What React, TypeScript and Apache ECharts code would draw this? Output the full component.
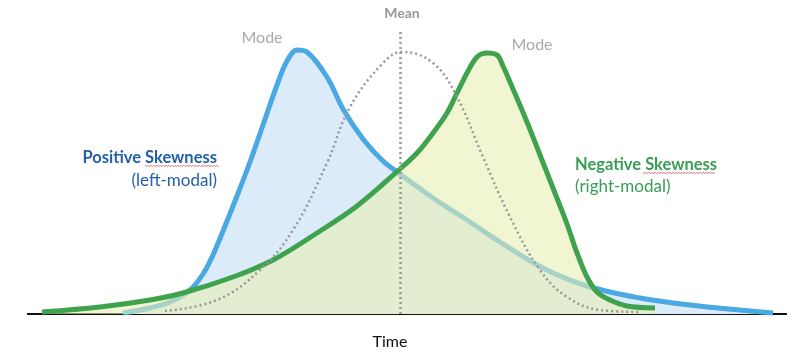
import React, { useEffect, useRef } from "react";
import * as echarts from "echarts";

// Time positions and densities (arbitrary units)
const blueX = [123, 150, 170, 190, 203, 213, 223, 237, 250, 263, 277, 287, 297, 307, 327, 343, 363, 383, 400, 433, 467, 500, 543, 587, 640, 690, 740, 773];
const blueY = [1, 6, 12, 24, 40, 59, 83, 118, 152, 189, 229, 253, 264, 262, 237, 205, 175, 153, 140, 116, 94, 72, 46, 28, 16, 9, 4, 1];

const greenX = [42, 100, 150, 183, 233, 273, 317, 357, 400, 417, 433, 447, 457, 467, 477, 487, 497, 503, 513, 527, 540, 553, 567, 577, 587, 597, 610, 627, 655];
const greenY = [2, 7, 14, 21, 37, 54, 81, 108, 145, 161, 181, 201, 221, 241, 257, 261, 259, 248, 225, 192, 159, 126, 90, 61, 37, 22, 14, 8, 6];

const normalX = [165, 217, 260, 293, 327, 350, 383, 402, 433, 457, 483, 510, 540, 567, 600, 640];
const normalY = [3, 14, 44, 84, 151, 207, 251, 262, 251, 217, 157, 97, 44, 17, 4, 2];

const baseX = [27, 787];
const meanX = 400;
const meanTop = 282;

const zip = (xs: number[], ys: number[]) => xs.map((x, i) => [x, ys[i]]);

function wavy(x0: number, x1: number, y: number): number[][] {
  const pts: number[][] = [];
  let k = 0;
  for (let x = x0; x <= x1; x += 1.5) {
    pts.push([x, y + (k % 2 === 0 ? -0.8 : 0.8)]);
    k++;
  }
  return pts;
}

export default function App() {
  const ref = useRef<HTMLDivElement>(null);
  useEffect(() => {
    if (!ref.current) return;
    const chart = echarts.init(ref.current, undefined, { renderer: "svg" });
    const font = "Lato, 'Open Sans', sans-serif";
    chart.setOption({
      animation: false,
      grid: { left: 0, right: 0, top: 0, bottom: 40 },
      xAxis: { type: "value", min: 0, max: 800, show: false },
      yAxis: { type: "value", min: 0, max: 314, show: false },
      series: [
        {
          type: "line",
          data: baseX.map((x) => [x, 0]),
          symbol: "none",
          lineStyle: { color: "#111", width: 2 },
          z: 1,
        },
        {
          type: "line",
          data: zip(blueX, blueY),
          smooth: 0.35,
          symbol: "none",
          lineStyle: { color: "#4aa8e2", width: 5 },
          areaStyle: { color: "#dcebf9", opacity: 1 },
          z: 2,
        },
        {
          type: "line",
          data: zip(greenX, greenY),
          smooth: 0.35,
          symbol: "none",
          lineStyle: { color: "#3fa34d", width: 5 },
          areaStyle: { color: "rgb(232,238,180)", opacity: 0.6 },
          z: 3,
        },
        {
          type: "line",
          data: zip(normalX, normalY),
          smooth: 0.4,
          symbol: "none",
          lineStyle: { color: "#999", width: 2.5, type: [2, 3] },
          z: 4,
          markLine: {
            silent: true,
            symbol: "none",
            label: { show: false },
            lineStyle: { color: "#999", width: 2.5, type: [2, 3] },
            data: [[{ coord: [meanX, 0] }, { coord: [meanX, meanTop] }]],
          },
        },
      ],
      graphic: [
        { type: "text", x: 402, y: 12, style: { text: "Mean", fill: "#999", font: `bold 14px ${font}`, textAlign: "center", textVerticalAlign: "middle" } },
        { type: "text", x: 262, y: 36, style: { text: "Mode", fill: "#aaa", font: `16px ${font}`, textAlign: "center", textVerticalAlign: "middle" } },
        { type: "text", x: 532, y: 43, style: { text: "Mode", fill: "#aaa", font: `16px ${font}`, textAlign: "center", textVerticalAlign: "middle" } },
        { type: "text", x: 217, y: 157, style: { text: "Positive Skewness", fill: "#2360a8", font: `bold 16.5px ${font}`, textAlign: "right", textVerticalAlign: "middle" } },
        { type: "text", x: 217, y: 179, style: { text: "(left-modal)", fill: "#2360a8", font: `17px ${font}`, textAlign: "right", textVerticalAlign: "middle" } },
        { type: "text", x: 575, y: 164, style: { text: "Negative Skewness", fill: "#3a9d55", font: `bold 16.5px ${font}`, textAlign: "left", textVerticalAlign: "middle" } },
        { type: "text", x: 575, y: 185, style: { text: "(right-modal)", fill: "#3a9d55", font: `17px ${font}`, textAlign: "left", textVerticalAlign: "middle" } },
        { type: "text", x: 390, y: 340, style: { text: "Time", fill: "#111", font: `16px ${font}`, textAlign: "center", textVerticalAlign: "middle" } },
        { type: "polyline", shape: { points: wavy(145, 219, 166) }, style: { stroke: "#e05050", lineWidth: 0.8, fill: null } },
        { type: "polyline", shape: { points: wavy(643, 715, 173) }, style: { stroke: "#e05050", lineWidth: 0.8, fill: null } },
      ],
    });
    return () => chart.dispose();
  }, []);
  return <div ref={ref} style={{ position: "fixed", left: 0, top: 0, width: 800, height: 354 }} />;
}
